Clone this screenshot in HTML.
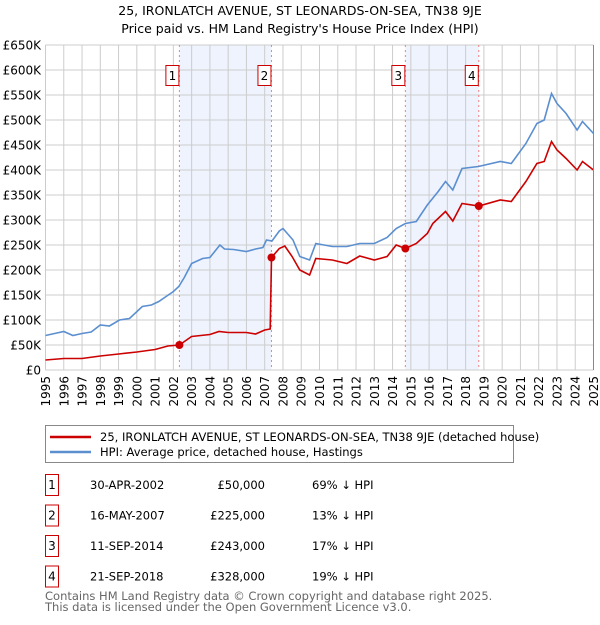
<!DOCTYPE html>
<html><head><meta charset="utf-8">
<style>
html,body{margin:0;padding:0;background:#fff;}
body{width:600px;height:620px;overflow:hidden;font-family:"Liberation Sans","DejaVu Sans",sans-serif;}
svg text{font-family:"DejaVu Sans","Liberation Sans",sans-serif;}
</style></head>
<body>
<svg id="chart" width="600" height="620" xmlns="http://www.w3.org/2000/svg">
<text x="300" y="15" text-anchor="middle" font-size="12.5" fill="#000">25, IRONLATCH AVENUE, ST LEONARDS-ON-SEA, TN38 9JE</text>
<text x="300" y="33" text-anchor="middle" font-size="12.5" fill="#000">Price paid vs. HM Land Registry's House Price Index (HPI)</text>
<g id="grid"></g><g id="shade"></g><g id="series"></g><g id="axes"></g>
<g>
<rect x="45.5" y="425.5" width="468" height="37" fill="#fff" stroke="#888"/>
<line x1="50" y1="437" x2="91" y2="437" stroke="#cc0000" stroke-width="2.5"/>
<text x="100" y="441" font-size="11.5">25, IRONLATCH AVENUE, ST LEONARDS-ON-SEA, TN38 9JE (detached house)</text>
<line x1="50" y1="452" x2="91" y2="452" stroke="#5b8fd0" stroke-width="2.5"/>
<text x="100" y="456" font-size="11.5">HPI: Average price, detached house, Hastings</text>
</g>
<g id="table"></g>
<text x="45" y="600" font-size="11.5" fill="#666">Contains HM Land Registry data © Crown copyright and database right 2025.</text>
<text x="45" y="611" font-size="11.5" fill="#666">This data is licensed under the Open Government Licence v3.0.</text>
</svg>
<script>
const hpiDates=[1995.0,1995.5,1996.0,1996.5,1997.0,1997.5,1998.0,1998.5,1999.05,1999.6,2000.3,2000.8,2001.2,2001.6,2002.0,2002.3,2002.6,2003.0,2003.6,2004.0,2004.55,2004.8,2005.3,2006.0,2006.5,2006.9,2007.1,2007.4,2007.8,2008.0,2008.55,2008.92,2009.46,2009.8,2010.7,2011.5,2012.2,2013.0,2013.7,2014.2,2014.7,2015.3,2015.9,2016.5,2016.9,2017.3,2017.8,2018.7,2019.9,2020.5,2021.3,2021.9,2022.3,2022.7,2023.0,2023.5,2024.1,2024.4,2025.0];
const hpiValues=[69,73,77,69,73,76,90,88,100,103,127,130,137,147,157,167,185,213,223,225,250,242,241,237,242,245,260,258,278,283,260,227,220,253,247,247,253,253,265,283,293,297,330,357,377,360,403,407,417,413,453,493,500,553,533,513,480,497,473];
const ppDates=[1995.0,1996.0,1997.0,1998.0,1999.0,2000.0,2001.0,2001.7,2002.33,2003.0,2004.0,2004.5,2005.0,2006.0,2006.5,2007.0,2007.3,2007.37,2007.8,2008.1,2008.5,2008.92,2009.46,2009.8,2010.7,2011.5,2012.2,2013.0,2013.7,2014.2,2014.7,2015.3,2015.9,2016.2,2016.9,2017.3,2017.8,2018.72,2019.9,2020.5,2021.3,2021.9,2022.3,2022.7,2023.0,2023.5,2024.1,2024.4,2025.0];
const ppValues=[20,23,23,28,32,36,41,48,50,67,71,77,75,75,72,80,82,225,243,248,227,200,190,223,220,213,228,220,227,250,243,253,273,293,317,298,333,328,340,337,377,413,417,457,440,423,400,417,400];
const saleNums=["1","2","3","4"];
const saleDates=[2002.33,2007.37,2014.7,2018.72];
const saleValues=[50,225,243,328];
const saleLabels=["30-APR-2002","16-MAY-2007","11-SEP-2014","21-SEP-2018"];
const salePrices=["£50,000","£225,000","£243,000","£328,000"];
const saleHpi=["69% ↓ HPI","13% ↓ HPI","17% ↓ HPI","19% ↓ HPI"];
const yTicks=[0,50,100,150,200,250,300,350,400,450,500,550,600,650];
const yTickLabels=["£0","£50K","£100K","£150K","£200K","£250K","£300K","£350K","£400K","£450K","£500K","£550K","£600K","£650K"];
const xYears=[1995,1996,1997,1998,1999,2000,2001,2002,2003,2004,2005,2006,2007,2008,2009,2010,2011,2012,2013,2014,2015,2016,2017,2018,2019,2020,2021,2022,2023,2024,2025];

const L=45.5,R=593.5,T=45,B=370;
const xs=v=>L+(v-1995)/30*(R-L);
const ys=v=>B-v/650*(B-T);
const NS="http://www.w3.org/2000/svg";
function mk(tag,attrs,parent,txt){const e=document.createElementNS(NS,tag);for(const k in attrs)e.setAttribute(k,attrs[k]);if(txt!==undefined)e.textContent=txt;parent.appendChild(e);return e;}
const grid=document.getElementById('grid'),shade=document.getElementById('shade'),series=document.getElementById('series'),axes=document.getElementById('axes'),table=document.getElementById('table');
mk('rect',{x:L,y:T,width:R-L,height:B-T,fill:'#fff'},grid);
for(let i=0;i<saleDates.length;i+=2){
  const r=mk('rect',{x:xs(saleDates[i]),y:T,width:xs(saleDates[i+1])-xs(saleDates[i]),height:B-T,fill:'#eef3fd'},grid);
  
  
}
yTicks.forEach((t,i)=>{
  const g=mk('line',{x1:L,x2:R,y1:ys(t),y2:ys(t),stroke:'#ccc','stroke-width':1},grid);
  
  
  const tx=mk('text',{x:41,y:ys(t)+4.5,'text-anchor':'end','font-size':12},axes,yTickLabels[i]);
  
  
});
xYears.forEach(y=>{
  const g=mk('line',{x1:xs(y),x2:xs(y),y1:T,y2:B,stroke:'#ccc','stroke-width':1},grid);
  
  
  const tx=mk('text',{x:0,y:0,'text-anchor':'end','font-size':12,transform:`translate(${xs(y)+4.5},376) rotate(-90)`},axes,String(y));
  
  
});
saleDates.forEach((d,i)=>{
  const l=mk('line',{x1:xs(d),x2:xs(d),y1:T,y2:B,stroke:'#f08080','stroke-dasharray':'2,3','stroke-width':1},shade);
  
  
  const g=mk('g',{},shade);
  
  
  mk('rect',{x:xs(d)-13.5,y:65.5,width:13,height:20,fill:'#fff',stroke:'#cc0000'},g);
  mk('text',{x:xs(d)-7,y:80,'text-anchor':'middle','font-size':12},g,saleNums[i]);
});
mk('line',{x1:L,x2:R,y1:B,y2:B,stroke:'#ccc'},axes);
function path(dates,vals){return dates.map((d,i)=>(i?'L':'M')+xs(d).toFixed(1)+','+ys(vals[i]).toFixed(1)).join('');}
const hp=mk('path',{d:path(hpiDates,hpiValues),fill:'none',stroke:'#5b8fd0','stroke-width':1.6},series);


const pp=mk('path',{d:path(ppDates,ppValues),fill:'none',stroke:'#cc0000','stroke-width':1.6},series);


saleDates.forEach((d,i)=>{
  const c=mk('circle',{cx:xs(d),cy:ys(saleValues[i]),r:4,fill:'#cc0000'},series);
  
  
});
saleNums.forEach((n,i)=>{
  const y=485+i*30.5;
  const g=mk('g',{},table);
  
  
  mk('rect',{x:45.5,y:y-10.5,width:13,height:21,fill:'#fff',stroke:'#cc0000'},g);
  mk('text',{x:52,y:y+4,'text-anchor':'middle','font-size':12},g,n);
  mk('text',{x:90,y:y+4,'font-size':11.5},g,saleLabels[i]);
  mk('text',{x:265,y:y+4,'text-anchor':'end','font-size':11.5},g,salePrices[i]);
  mk('text',{x:312,y:y+4,'font-size':11.5},g,saleHpi[i]);
});
mk('line',{x1:R,x2:R,y1:T,y2:B,stroke:'#888'},axes);
</script>
</body></html>
